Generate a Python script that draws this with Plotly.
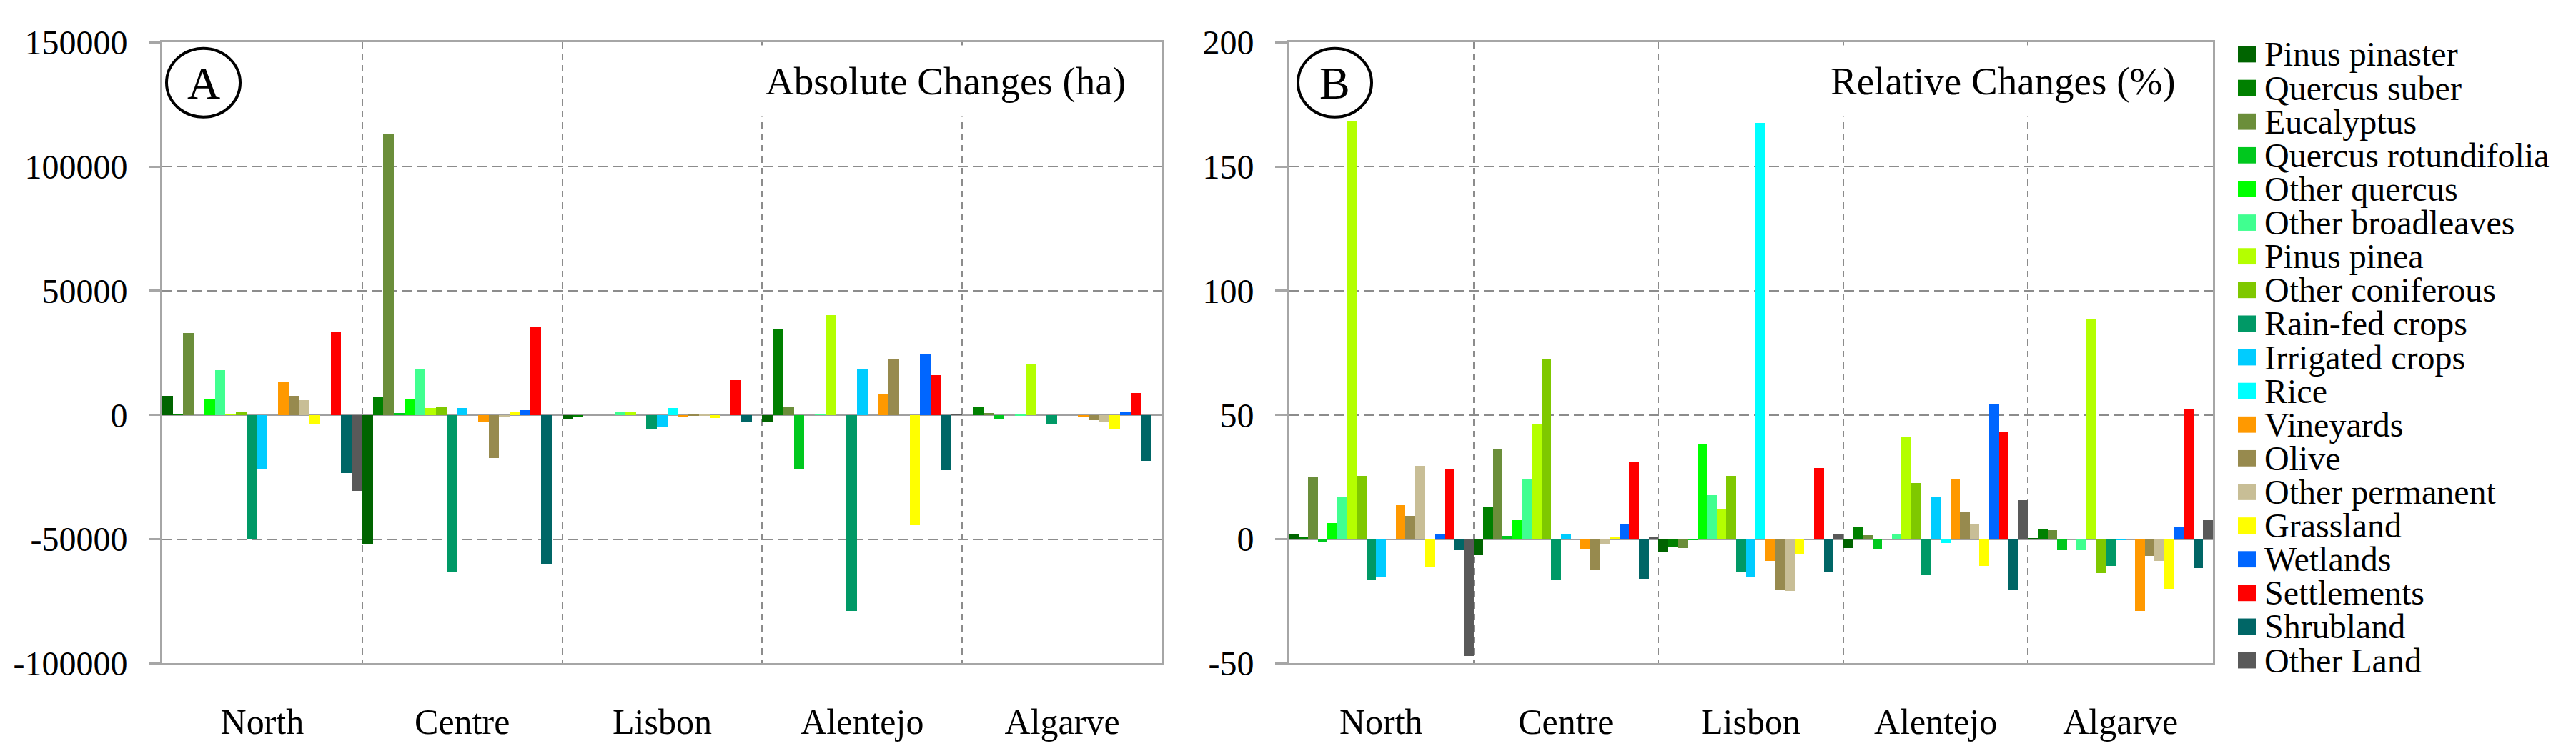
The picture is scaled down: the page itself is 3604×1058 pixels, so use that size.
import plotly.graph_objects as go

# Regions (x categories)
regions = ["North", "Centre", "Lisbon", "Alentejo", "Algarve"]

# Land cover classes (series) and their colours
classes = ["Pinus pinaster", "Quercus suber", "Eucalyptus", "Quercus rotundifolia",
           "Other quercus", "Other broadleaves", "Pinus pinea", "Other coniferous",
           "Rain-fed crops", "Irrigated crops", "Rice", "Vineyards", "Olive",
           "Other permanent", "Grassland", "Wetlands", "Settlements", "Shrubland",
           "Other Land"]
colors = ["#006400", "#008000", "#6B8E3A", "#00C81E", "#00FF00", "#40FF90",
          "#B4FF00", "#7FC800", "#009966", "#00CCFF", "#00FFFF", "#FF9900",
          "#978A4E", "#C8BE96", "#FFFF00", "#0066FF", "#FF0000", "#006666",
          "#595959"]

# Absolute changes (ha), per class: North, Centre, Lisbon, Alentejo, Algarve
abs_pinus_pinaster = [7500, -52000, -1500, -3000, 0]
abs_quercus_suber = [300, 7000, -700, 34300, 3000]
abs_eucalyptus = [33000, 113000, 0, 3300, 800]
abs_quercus_rotundifolia = [0, 700, 0, -21600, -1500]
abs_other_quercus = [6500, 6500, 0, 0, 0]
abs_other_broadleaves = [18000, 18600, 1000, 300, -300]
abs_pinus_pinea = [400, 2800, 1000, 40000, 20300]
abs_other_coniferous = [1000, 3300, 0, 0, 0]
abs_rainfed = [-50000, -63500, -5700, -79000, -4000]
abs_irrigated = [-22000, 2600, -4800, 18300, 0]
abs_rice = [0, 0, 2600, 0, 0]
abs_vineyards = [13500, -2600, -1100, 8100, -600]
abs_olive = [7500, -17500, -500, 22300, -2200]
abs_other_permanent = [6000, -700, -500, 0, -3000]
abs_grassland = [-4000, 900, -1300, -44300, -5500]
abs_wetlands = [0, 2000, 0, 24200, 900]
abs_settlements = [33500, 35600, 14000, 15900, 8700]
abs_shrubland = [-23500, -60000, -3000, -22300, -18600]
abs_other_land = [-30500, 0, 0, 500, 0]

# Relative changes (%), per class: North, Centre, Lisbon, Alentejo, Algarve
rel_pinus_pinaster = [2.2, -6.5, -5.2, -3.5, 0.3]
rel_quercus_suber = [0.9, 12.7, -3.1, 4.8, 4.1]
rel_eucalyptus = [25.1, 36.2, -3.7, 1.5, 3.5]
rel_quercus_rotundifolia = [-1.1, 1.3, -0.5, -4.1, -4.6]
rel_other_quercus = [6.3, 7.6, 38.2, 0, 0]
rel_other_broadleaves = [16.8, 24.0, 17.5, 2.2, -4.6]
rel_pinus_pinea = [168, 46.5, 12.0, 40.8, 88.7]
rel_other_coniferous = [25.5, 72.7, 25.5, 22.5, -13.8]
rel_rainfed = [-16.4, -16.4, -13.3, -14.2, -10.7]
rel_irrigated = [-15.3, 2.2, -15.1, 17.2, -0.5]
rel_rice = [0, 0, 167.5, -1.5, 0]
rel_vineyards = [13.7, -4.2, -8.9, 24.4, -29]
rel_olive = [9.4, -12.5, -20.7, 11.1, -6.8]
rel_other_permanent = [29.3, -2.0, -21, 6.1, -8.7]
rel_grassland = [-11.3, 0.9, -6.3, -10.7, -19.9]
rel_wetlands = [2.0, 5.9, 0, 54.4, 4.8]
rel_settlements = [28.2, 31.2, 28.6, 43.0, 52.4]
rel_shrubland = [-4.6, -16, -13.1, -20.3, -11.8]
rel_other_land = [-47, 0.9, 2.2, 15.7, 7.6]

abs_values = [abs_pinus_pinaster, abs_quercus_suber, abs_eucalyptus, abs_quercus_rotundifolia,
              abs_other_quercus, abs_other_broadleaves, abs_pinus_pinea, abs_other_coniferous,
              abs_rainfed, abs_irrigated, abs_rice, abs_vineyards, abs_olive,
              abs_other_permanent, abs_grassland, abs_wetlands, abs_settlements,
              abs_shrubland, abs_other_land]
rel_values = [rel_pinus_pinaster, rel_quercus_suber, rel_eucalyptus, rel_quercus_rotundifolia,
              rel_other_quercus, rel_other_broadleaves, rel_pinus_pinea, rel_other_coniferous,
              rel_rainfed, rel_irrigated, rel_rice, rel_vineyards, rel_olive,
              rel_other_permanent, rel_grassland, rel_wetlands, rel_settlements,
              rel_shrubland, rel_other_land]

# Tick values / labels
abs_ticks = [-100000, -50000, 0, 50000, 100000, 150000]
abs_ticktext = ["-100000", "-50000", "0", "50000", "100000", "150000"]
rel_ticks = [-50, 0, 50, 100, 150, 200]
rel_ticktext = ["-50", "0", "50", "100", "150", "200"]

W, H = 3604, 1058
FONT = "Liberation Serif"


def px(x):
    return x / W


def py(y):
    return 1 - y / H


fig = go.Figure()

for name, col, a, r in zip(classes, colors, abs_values, rel_values):
    fig.add_trace(go.Bar(x=regions, y=a, name=name, marker_color=col,
                         marker_line_width=0, showlegend=False,
                         xaxis="x", yaxis="y"))
    fig.add_trace(go.Bar(x=regions, y=r, name=name, marker_color=col,
                         marker_line_width=0, showlegend=False,
                         xaxis="x2", yaxis="y2"))

xstyle = dict(type="category", tickson="boundaries", showgrid=True,
              gridcolor="#8C8C8C", gridwidth=2, griddash="9px,7px",
              showline=True, mirror=True, linecolor="#A6A6A6", linewidth=3,
              ticks="", ticklabelstandoff=36,
              tickfont=dict(family=FONT, size=50, color="black"))
ystyle = dict(showgrid=True, gridcolor="#8C8C8C", gridwidth=2, griddash="14px,7px",
              showline=True, mirror=True, linecolor="#A6A6A6", linewidth=3,
              ticks="outside", ticklen=16, tickwidth=3, tickcolor="#A6A6A6",
              ticklabelstandoff=20,
              zeroline=True, zerolinecolor="#A0A0A0", zerolinewidth=2,
              tickfont=dict(family=FONT, size=48, color="black"))

fig.update_layout(
    width=W, height=H,
    margin=dict(l=0, r=0, t=0, b=0),
    paper_bgcolor="white", plot_bgcolor="white",
    barmode="group", bargap=0, bargroupgap=0,
    font=dict(family=FONT, color="black"),
    xaxis=dict(xstyle, domain=[px(227), px(1626)], anchor="y"),
    yaxis=dict(ystyle, domain=[py(950), py(35)], anchor="x",
               range=[-100000, 150000], tickvals=abs_ticks, ticktext=abs_ticktext),
    xaxis2=dict(xstyle, domain=[px(1803), px(3096)], anchor="y2"),
    yaxis2=dict(ystyle, domain=[py(950), py(35)], anchor="x2",
                range=[-50, 200], tickvals=rel_ticks, ticktext=rel_ticktext),
)

# Panel letters in circles
for letter, cx in [("A", 284.5), ("B", 1867.5)]:
    fig.add_shape(type="circle", xref="paper", yref="paper",
                  x0=px(cx - 51.5), x1=px(cx + 51.5), y0=py(145), y1=py(44),
                  line=dict(color="black", width=4))
    fig.add_annotation(text=letter, xref="paper", yref="paper",
                       x=px(cx), y=py(95), xanchor="center", yanchor="middle",
                       showarrow=False, font=dict(family=FONT, size=64, color="black"))

# Panel titles (white box hides the dividers behind the text)
for title, right in [("Absolute Changes (ha)", 1575), ("Relative Changes (%)", 3044)]:
    fig.add_annotation(text=title, xref="paper", yref="paper",
                       x=px(right + 20), y=py(92), xanchor="right", yanchor="middle",
                       showarrow=False, bgcolor="white", borderpad=19,
                       font=dict(family=FONT, size=55, color="black"))

# Legend (drawn as swatches + labels)
for i, (name, col) in enumerate(zip(classes, colors)):
    yc = 52.6 + 49.6 * i
    fig.add_shape(type="rect", xref="paper", yref="paper",
                  x0=px(3131), x1=px(3156), y0=py(yc + 12), y1=py(yc - 12),
                  fillcolor=col, line=dict(width=0))
    fig.add_annotation(text=name, xref="paper", yref="paper",
                       x=px(3166), y=py(yc), xanchor="left", yanchor="middle",
                       showarrow=False, font=dict(family=FONT, size=48, color="black"))

fig.write_html("out.html", config={"displayModeBar": False},
               post_script="document.body.style.margin='0';document.body.style.overflow='hidden';")
